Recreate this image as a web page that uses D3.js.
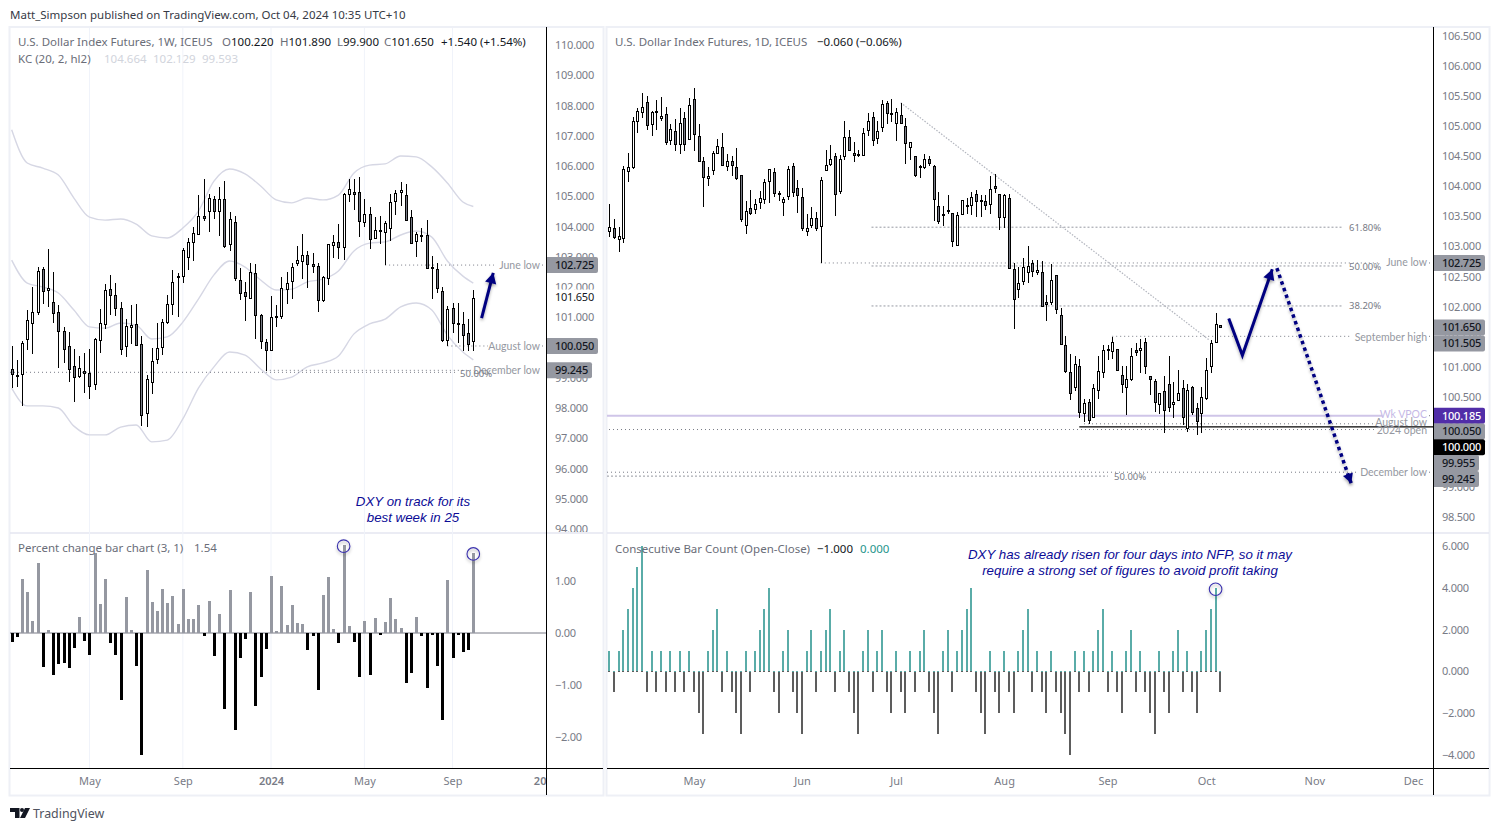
<!DOCTYPE html>
<html>
<head>
<meta charset="utf-8">
<script src="https://cdn.jsdelivr.net/npm/d3@7"></script>
<style>
  html, body { margin: 0; padding: 0; background: #fff; }
  svg { display: block; font-family: "Noto Sans", sans-serif; }
  text { white-space: pre; }
</style>
</head>
<body>
<div id="chart"></div>
<script>
// weekly candles, Jan 2023 to Oct 2024
const wkOpen = [99.28,99.09,99.12,100.27,100.80,101.18,102.58,101.91,101.49,101.16,100.53,100.04,99.38,99.04,99.21,99.16,98.78,100.27,100.75,101.92,101.73,101.30,100.03,100.67,100.79,100.10,97.81,98.85,99.60,100.00,100.84,101.42,102.32,102.34,102.97,103.48,103.76,104.36,104.49,104.90,104.50,104.90,103.40,104.14,102.22,101.82,101.61,102.45,101.06,100.17,99.93,101.02,101.05,101.92,102.18,102.77,102.84,103.05,102.75,102.68,101.56,102.27,103.41,103.48,103.31,105.06,105.13,105.13,104.14,104.40,103.60,103.88,103.81,103.95,104.83,105.12,105.03,104.30,103.50,103.71,103.71,102.66,102.58,101.86,100.25,101.29,100.81,100.77,100.47,100.22];
const wkHigh = [100.05,99.59,100.23,101.24,101.99,102.65,102.67,103.25,102.48,101.39,100.67,100.50,99.94,99.72,99.81,99.94,100.30,101.26,102.10,102.40,102.12,101.50,100.94,101.40,101.44,100.38,99.09,99.97,100.80,100.93,101.72,102.56,102.47,103.28,103.61,103.97,105.04,105.56,105.07,105.01,105.30,105.50,104.47,104.35,102.62,102.17,102.79,102.76,101.11,100.27,101.70,101.40,102.32,102.51,102.78,103.35,103.75,103.18,103.11,102.78,102.37,103.43,103.71,104.08,105.12,105.56,105.56,105.63,104.90,104.65,104.30,104.36,104.18,105.07,105.21,105.46,105.40,104.53,103.83,103.94,104.20,103.02,102.78,101.99,101.37,101.48,101.48,101.17,100.93,101.89];
const wkLow = [98.65,98.70,98.07,99.92,99.80,101.07,101.44,101.35,100.82,99.32,99.50,98.87,98.21,98.99,98.51,98.31,98.60,99.83,100.62,101.07,101.04,99.75,99.67,100.12,100.08,97.40,97.38,98.47,99.45,99.75,100.78,101.07,101.02,102.14,102.56,102.86,103.73,104.19,103.82,104.26,103.69,103.30,103.19,102.21,101.57,100.89,101.59,100.27,99.95,99.21,99.92,100.67,100.95,101.44,101.61,102.70,102.27,101.97,102.45,101.18,101.49,102.08,102.97,102.92,102.89,104.82,104.55,103.66,103.99,103.24,103.58,103.41,102.73,103.51,104.39,104.69,104.17,103.41,103.00,103.50,102.58,101.61,101.79,100.17,100.05,100.47,100.14,99.89,99.89,99.90];
const wkClose = [99.13,99.07,100.14,100.90,101.16,102.52,101.85,101.96,101.12,100.52,99.94,99.27,99.01,99.31,99.15,98.74,100.27,100.82,101.89,101.73,101.30,99.96,100.70,100.74,100.10,97.75,98.95,99.54,99.97,100.83,101.43,102.15,102.36,103.21,103.48,103.77,104.34,104.30,104.93,104.50,104.90,103.36,104.24,102.28,101.78,101.68,102.48,101.05,100.19,99.90,101.01,101.04,101.96,102.12,102.65,102.88,103.05,102.75,102.68,101.55,102.32,103.41,103.50,103.31,105.06,105.23,105.06,104.16,104.40,103.58,103.87,103.86,104.10,104.80,105.10,105.20,104.20,103.43,103.74,103.69,102.61,102.64,101.96,100.24,101.26,100.80,100.79,100.39,100.09,101.65];

// percent change of each weekly bar
const wkPercent = [-0.18,-0.08,1.04,0.78,0.24,1.35,-0.66,0.05,-0.80,-0.60,-0.58,-0.68,-0.29,0.31,-0.16,-0.43,1.53,0.56,1.04,-0.20,-0.43,-1.29,0.70,0.05,-0.64,-2.35,1.22,0.60,0.43,0.85,0.58,0.72,0.18,0.85,0.26,0.26,0.53,-0.05,0.62,-0.45,0.37,-1.47,0.83,-1.87,-0.49,-0.12,0.78,-1.41,-0.85,-0.31,1.10,0.03,0.91,0.16,0.53,0.20,0.18,-0.33,-0.06,-1.10,0.74,1.08,0.08,-0.20,1.70,0.14,-0.18,-0.85,0.24,-0.81,0.29,-0.03,0.22,0.68,0.26,0.10,-0.97,-0.76,0.31,-0.06,-1.05,-0.04,-0.64,-1.68,1.01,-0.49,-0.03,-0.37,-0.33,1.54];

// Keltner channel, read every third week
const kcBars = [0,3,6,9,12,15,18,21,24,27,30,33,36,39,42,45,48,51,54,57,60,63,66,69,72,75,78,81,84,87,89];
const kcUpper = [107.20,106.10,105.93,105.70,104.94,104.31,104.21,104.25,104.08,103.69,103.62,103.95,104.51,105.50,105.90,105.74,105.34,104.88,104.78,104.94,104.88,105.04,105.77,106.03,106.07,106.33,106.30,105.97,105.44,104.81,104.66];
const kcMiddle = [102.89,102.13,102.00,101.80,101.24,100.68,100.64,100.81,100.74,100.28,100.35,100.84,101.60,102.40,102.86,102.66,102.23,101.90,101.93,102.17,102.26,102.53,103.19,103.45,103.49,103.72,103.85,103.65,102.86,102.36,102.13];
const kcLower = [98.66,98.07,98.07,98.00,97.40,97.11,97.11,97.37,97.44,96.88,96.94,97.64,98.66,99.36,99.85,99.75,99.29,98.93,99.02,99.36,99.49,99.72,100.45,100.78,100.94,101.34,101.47,101.24,100.41,99.85,99.59];

// daily candles, Apr to Oct 2024
const dayOpen = [103.25,103.30,103.12,103.14,104.25,104.32,105.08,105.23,105.40,105.03,105.25,105.13,105.20,104.76,104.92,104.70,105.13,104.79,105.45,104.83,104.42,104.13,104.26,104.55,104.65,104.33,104.42,104.32,104.18,103.35,103.64,103.62,103.73,103.79,104.08,104.23,103.89,103.74,103.83,104.33,103.97,103.82,103.25,103.35,103.47,103.34,104.27,104.37,104.50,103.91,104.50,104.82,104.55,104.54,104.52,104.94,105.15,104.81,104.98,105.38,105.22,105.04,105.18,105.01,104.65,104.50,104.31,104.31,104.45,104.33,103.68,103.53,103.59,103.55,103.03,103.53,103.68,103.69,103.87,103.77,103.75,103.71,104.00,103.88,103.48,103.80,102.63,102.30,102.41,102.57,102.73,102.56,102.57,102.07,102.08,102.52,101.86,101.36,100.91,100.66,101.01,100.22,100.41,100.16,100.61,100.91,101.29,101.26,101.29,100.87,100.66,100.79,101.27,101.27,101.41,100.84,100.77,100.38,100.59,100.71,100.39,100.45,100.64,99.98,100.66,100.32,100.22,100.47,101.01,101.41,101.69];
const dayHigh = [103.71,103.45,103.33,104.34,104.55,105.15,105.30,105.56,105.50,105.26,105.44,105.48,105.32,105.04,105.12,105.30,105.24,105.47,105.63,105.03,104.48,104.32,104.59,104.78,104.89,104.53,104.51,104.63,104.18,103.75,103.94,103.79,103.92,104.12,104.28,104.30,103.92,103.82,104.34,104.38,104.11,103.97,103.54,103.65,103.57,104.16,104.61,104.68,104.55,104.52,105.08,104.94,104.74,104.61,104.97,105.22,105.23,105.08,105.44,105.42,105.45,105.30,105.39,105.13,104.73,104.50,104.35,104.54,104.50,104.35,103.91,103.68,103.85,103.55,103.58,103.78,103.80,103.90,103.94,103.85,103.85,104.17,104.21,103.88,103.88,103.88,102.72,102.66,102.80,103.01,102.77,102.77,102.75,102.19,102.71,102.53,101.97,101.51,101.21,101.17,101.13,100.47,100.47,100.72,101.17,101.36,101.36,101.50,101.29,101.01,101.01,101.31,101.39,101.46,101.48,100.84,100.79,100.56,100.85,101.18,100.74,100.95,100.78,100.71,100.68,100.39,100.66,101.14,101.44,101.89,101.69];
const dayLow = [103.16,103.12,102.90,103.05,104.08,104.28,104.89,105.13,104.94,104.83,104.93,105.08,104.69,104.68,104.59,104.53,104.59,104.78,104.58,104.41,103.66,104.00,104.18,104.54,104.33,104.26,104.17,104.10,103.41,103.21,103.53,103.54,103.62,103.71,103.72,103.82,103.75,103.51,103.77,103.83,103.56,103.25,103.18,103.30,103.26,102.73,104.26,104.33,103.50,103.88,104.44,104.59,104.40,104.48,104.51,104.84,104.67,104.70,104.91,105.04,105.07,104.76,105.03,104.37,104.44,104.16,104.13,104.28,104.34,103.43,103.38,103.34,103.54,102.99,103.03,103.52,103.54,103.52,103.49,103.49,103.60,103.54,103.89,103.28,103.30,102.63,101.62,102.15,102.36,102.40,102.50,102.52,102.01,101.76,102.02,101.88,101.36,100.89,100.44,100.59,100.14,100.08,100.05,100.16,100.46,100.82,101.11,101.12,100.92,100.57,100.19,100.76,101.17,100.90,100.88,100.53,100.25,100.22,99.89,100.25,100.14,100.43,100.03,99.91,100.19,99.87,99.90,100.44,100.90,101.40,101.66];
const dayClose = [103.32,103.15,103.17,104.28,104.32,105.08,105.25,105.32,105.01,105.23,105.24,105.17,104.74,104.95,104.70,105.05,104.70,105.35,104.87,104.42,104.16,104.17,104.55,104.67,104.35,104.42,104.35,104.13,103.45,103.59,103.56,103.70,103.80,104.08,104.28,103.88,103.88,103.79,104.28,103.90,103.86,103.31,103.30,103.47,103.30,104.10,104.35,104.45,103.86,104.45,104.82,104.60,104.52,104.53,104.88,105.09,104.76,104.92,105.37,105.22,105.20,105.23,105.04,104.73,104.73,104.19,104.33,104.45,104.38,103.78,103.43,103.54,103.60,103.08,103.53,103.77,103.69,103.82,103.76,103.76,103.69,103.96,103.96,103.49,103.85,102.63,102.13,102.40,102.65,102.67,102.60,102.60,102.01,102.03,102.45,101.96,101.37,100.93,100.56,101.04,100.25,100.39,100.11,100.64,100.92,101.27,101.27,101.41,100.94,100.72,100.79,101.17,101.23,101.31,101.01,100.79,100.42,100.56,100.27,100.32,100.42,100.56,100.16,100.62,100.24,100.11,100.49,100.94,101.39,101.71,101.66];

// consecutive bar count per daily bar
const dayCount = [1,-1,1,2,3,4,5,6,-1,1,-1,1,-1,1,-1,1,-1,1,-1,-2,-3,1,2,3,-1,1,-1,-2,-3,1,-1,1,2,3,4,-1,-2,1,2,-1,-2,-3,1,2,-1,1,2,3,-1,1,2,-1,-2,-3,1,2,-1,1,2,-1,-2,1,-1,-2,1,-1,1,2,-1,-2,-3,1,2,-1,1,2,3,4,-1,-2,-3,1,-1,-2,1,-1,-2,1,2,3,-1,1,-1,-2,1,-1,-2,-3,-4,1,-1,1,-1,1,2,3,-1,1,-1,-2,1,2,-1,1,-1,-2,-3,1,-1,-2,1,2,-1,1,-1,-2,1,2,3,4,-1];

// tick labels
const weekTicks = [15, 33, 50, 68, 85, 103];
const weekTickLabels = ["May", "Sep", "2024", "May", "Sep", "2025"];
const dayTicks = [18, 41, 61, 84, 106, 127, 150, 171];
const dayTickLabels = ["May", "Jun", "Jul", "Aug", "Sep", "Oct", "Nov", "Dec"];
const weekPriceTicks = d3.range(94, 111);
const dayPriceTicks = d3.range(98.5, 107, 0.5);
const percentTicks = [1, 0, -1, -2];
const countTicks = [6, 4, 2, 0, -2, -4];

const width = 1499;
const height = 831;
const gray = "#787b86";
const legendGray = "#6a6d78";
const dark = "#131722";
const boxGray = "#9598a1";
const navy = "#000080";

const xWeek = d3.scaleLinear().domain([0, 89]).range([11.67, 473.3]);
const xDay = d3.scaleLinear().domain([0, 130]).range([609.3, 1220.3]);
const yWeek = d3.scaleLinear().domain([110, 94]).range([45, 529]);
const yDay = d3.scaleLinear().domain([106.5, 98.5]).range([36, 517]);
const yPercent = d3.scaleLinear().domain([1, -2]).range([581, 737]);
const yCount = d3.scaleLinear().domain([6, -4]).range([546, 755]);

const svg = d3.select("#chart").append("svg")
  .attr("width", width)
  .attr("height", height)
  .attr("viewBox", `0 0 ${width} ${height}`);

const defs = svg.append("defs");
const shadow = defs.append("filter").attr("id", "shadow")
  .attr("x", "-50%").attr("y", "-50%").attr("width", "200%").attr("height", "200%");
shadow.append("feDropShadow")
  .attr("dx", 0).attr("dy", 2).attr("stdDeviation", 1.5)
  .attr("flood-color", "#000").attr("flood-opacity", 0.3);

function addClip(id, x, y, w, h) {
  defs.append("clipPath").attr("id", id)
    .append("rect").attr("x", x).attr("y", y).attr("width", w).attr("height", h);
}
addClip("leftMainAxis", 547, 27, 56, 505);
addClip("rightMainAxis", 1434, 27, 55, 505);
addClip("leftTime", 10, 769, 536, 26);

svg.append("rect").attr("width", width).attr("height", height).attr("fill", "#fff");

// panel frames
[[10, 603], [607, 1489]].forEach(([x0, x1]) => {
  svg.append("rect")
    .attr("x", x0 - 0.5).attr("y", 27)
    .attr("width", x1 - x0 + 1).attr("height", 768.5)
    .attr("fill", "none").attr("stroke", "#eef0f6").attr("stroke-width", 2);
  svg.append("line")
    .attr("x1", x0).attr("x2", x1).attr("y1", 533).attr("y2", 533)
    .attr("stroke", "#e4e6f0").attr("stroke-width", 1.5);
});

// faint month lines on the weekly chart
svg.append("g").selectAll("line").data(weekTicks.slice(0, 5)).join("line")
  .attr("x1", d => xWeek(d)).attr("x2", d => xWeek(d))
  .attr("y1", 28).attr("y2", 768)
  .attr("stroke", "#f0f3fa").attr("stroke-width", 1);

function drawCandles(g, open, high, low, close, x, y) {
  const bars = g.selectAll("g").data(open.map((o, i) => ({ i, o, h: high[i], l: low[i], c: close[i] })))
    .join("g")
    .attr("shape-rendering", "crispEdges");
  const cx = d => Math.round(x(d.i)) + 0.5;
  bars.append("line")
    .attr("x1", cx).attr("x2", cx)
    .attr("y1", d => y(d.h)).attr("y2", d => y(d.l))
    .attr("stroke", "#000").attr("stroke-width", 1);
  bars.append("rect")
    .attr("x", d => cx(d) - 1)
    .attr("width", 2)
    .attr("y", d => Math.round(y(Math.max(d.o, d.c))) + 0.5)
    .attr("height", d => Math.max(1, Math.round(Math.abs(y(d.o) - y(d.c)))))
    .attr("fill", d => d.c >= d.o ? "#fff" : gray)
    .attr("stroke", "#000").attr("stroke-width", 1);
}

function dottedLine(x1, x2, yv, color, dash, w) {
  svg.append("line")
    .attr("x1", x1).attr("x2", x2).attr("y1", yv).attr("y2", yv)
    .attr("stroke", color || "#787b86")
    .attr("stroke-width", w || 1)
    .attr("stroke-dasharray", dash === undefined ? "1 3" : dash);
}

function smallLabel(x, yv, txt, anchor, color) {
  return svg.append("text")
    .attr("x", x).attr("y", yv).attr("dy", "0.35em")
    .attr("text-anchor", anchor || "start")
    .attr("font-family", "Lato, sans-serif")
    .attr("font-size", 10.5)
    .attr("fill", color || boxGray)
    .text(txt);
}

function fibLabel(x, yv, txt) {
  return svg.append("text")
    .attr("x", x).attr("y", yv).attr("dy", "0.35em")
    .attr("font-size", 9.5)
    .attr("fill", gray)
    .text(txt);
}

function arrowLine(points, color, dash, w, headSize) {
  const line = d3.line();
  const p = svg.append("path")
    .attr("d", line(points))
    .attr("fill", "none")
    .attr("stroke", color)
    .attr("stroke-width", w)
    .attr("stroke-linejoin", "miter")
    .attr("filter", "url(#shadow)");
  if (dash) p.attr("stroke-dasharray", dash);
  const a = points[points.length - 2];
  const b = points[points.length - 1];
  const ang = Math.atan2(b[1] - a[1], b[0] - a[0]);
  const s = headSize;
  const head = [
    b,
    [b[0] - s * Math.cos(ang - 0.5), b[1] - s * Math.sin(ang - 0.5)],
    [b[0] - s * Math.cos(ang + 0.5), b[1] - s * Math.sin(ang + 0.5)]
  ];
  svg.append("path")
    .attr("d", line(head) + "Z")
    .attr("fill", color)
    .attr("filter", "url(#shadow)");
}

function legend(x, yv, parts) {
  const t = svg.append("text").attr("x", x).attr("y", yv).attr("font-size", 11.5);
  parts.forEach(([txt, color, px]) => {
    const s = t.append("tspan").attr("fill", color).text(txt);
    if (px !== undefined) s.attr("x", px);
  });
}

// weekly price pane
const kcLine = values => d3.line()
  .x(d => xWeek(d))
  .y((d, i) => yWeek(values[i]))
  .curve(d3.curveMonotoneX)(kcBars);
[kcUpper, kcMiddle, kcLower].forEach(v => {
  svg.append("path").attr("d", kcLine(v))
    .attr("fill", "none").attr("stroke", "#d6d7e4").attr("stroke-width", 1.4);
});

dottedLine(10, 458, yWeek(99.18));
dottedLine(xWeek(49), 474, yWeek(99.245));
dottedLine(xWeek(72), 494, yWeek(102.725));
dottedLine(xWeek(84), 488, yWeek(100.05));
dottedLine(542, 546, yWeek(102.725));
dottedLine(542, 546, yWeek(100.05));
drawCandles(svg.append("g"), wkOpen, wkHigh, wkLow, wkClose, xWeek, yWeek);

smallLabel(540, yWeek(102.725), "June low", "end");
smallLabel(540, yWeek(100.05), "August low", "end");
smallLabel(540, yWeek(99.245), "December low", "end");
fibLabel(460, yWeek(99.18) + 1, "50.00%");

arrowLine([[xWeek(90.6), yWeek(100.97)], [xWeek(92.85), yWeek(102.47)]], navy, null, 3, 12);

// weekly percent pane
svg.append("line")
  .attr("x1", 10).attr("x2", 546)
  .attr("y1", yPercent(0)).attr("y2", yPercent(0))
  .attr("stroke", gray);
svg.append("g").selectAll("rect").data(wkPercent).join("rect")
  .attr("shape-rendering", "crispEdges")
  .attr("x", (d, i) => Math.round(xWeek(i)) - 1)
  .attr("width", 3)
  .attr("y", d => Math.min(yPercent(d), yPercent(0)))
  .attr("height", d => Math.abs(yPercent(d) - yPercent(0)))
  .attr("fill", d => d >= 0 ? boxGray : "#000");

// daily price pane
dottedLine(871.5, 1342, yDay(103.32), boxGray, "2 2");
dottedLine(871.5, 1342, yDay(102.675), boxGray, "2 2");
dottedLine(871.5, 1342, yDay(102.01), boxGray, "2 2");
dottedLine(xDay(45), 1380, yDay(102.725));
dottedLine(xDay(107), 1350, yDay(101.505));
dottedLine(607, 1382, yDay(100.185), "#cfc5e8", "", 2);
dottedLine(xDay(101), 1373, yDay(100.05));
dottedLine(609, 1375, yDay(99.955));
dottedLine(607, 1358, yDay(99.245));
dottedLine(607, 1108, yDay(99.18), boxGray, "2 2");
[102.725, 101.505, 100.185, 99.245].forEach(v => dottedLine(1429, 1433, yDay(v)));
svg.append("line")
  .attr("x1", xDay(62)).attr("x2", xDay(127.7))
  .attr("y1", yDay(105.39)).attr("y2", yDay(101.44))
  .attr("stroke", "#b2b5be").attr("stroke-width", 1.2).attr("stroke-dasharray", "1.5 1.5");
svg.append("line")
  .attr("x1", xDay(100)).attr("x2", 1433)
  .attr("y1", yDay(100)).attr("y2", yDay(100))
  .attr("stroke", "#000").attr("stroke-width", 1.2);

drawCandles(svg.append("g"), dayOpen, dayHigh, dayLow, dayClose, xDay, yDay);

fibLabel(1349, yDay(103.32), "61.80%");
fibLabel(1349, yDay(102.675) + 1, "50.00%");
fibLabel(1349, yDay(102.01), "38.20%");
fibLabel(1114, yDay(99.18) + 1, "50.00%");
smallLabel(1427, yDay(102.725) - 0.5, "June low", "end");
smallLabel(1427, yDay(101.505) + 1, "September high", "end");
smallLabel(1427, yDay(100.185) - 1, "Wk VPOC", "end", "#c5b8e6");
smallLabel(1427, yDay(100.05) - 1, "August low", "end");
smallLabel(1427, yDay(99.955) + 1, "2024 open", "end");
smallLabel(1427, yDay(99.245), "December low", "end");

arrowLine([
  [xDay(131.8), yDay(101.8)],
  [xDay(134.7), yDay(101.19)],
  [xDay(141.06), yDay(102.62)]
], navy, null, 3, 12);
arrowLine([
  [xDay(142.04), yDay(102.64)],
  [xDay(157.2), yDay(99.2)],
  [xDay(157.86), yDay(99.06)]
], navy, "3.5 3.5", 3.5, 11);

// daily count pane
const countBars = svg.append("g").selectAll("g").data(dayCount).join("g")
  .attr("shape-rendering", "crispEdges");
countBars.append("rect")
  .attr("x", (d, i) => Math.round(xDay(i)) - 1)
  .attr("width", 2)
  .attr("y", d => Math.min(yCount(d), yCount(0)))
  .attr("height", d => Math.abs(yCount(d) - yCount(0)))
  .attr("fill", d => d > 0 ? "#5aaca8" : "#5d5d5d");
countBars.append("rect")
  .attr("x", (d, i) => Math.round(xDay(i)) - 1)
  .attr("width", 2)
  .attr("y", yCount(0))
  .attr("height", 1)
  .attr("fill", d => d > 0 ? "#5d5d5d" : "#5aaca8");

// highlight rings
[[xWeek(64), yPercent(1.67)], [xWeek(89), yPercent(1.52)], [xDay(129), yCount(3.93)]].forEach(([cx, cy]) => {
  svg.append("circle")
    .attr("cx", cx).attr("cy", cy).attr("r", 6.3)
    .attr("fill", "none")
    .attr("stroke", "#3b32ad").attr("stroke-width", 1.1)
    .attr("filter", "url(#shadow)");
});

// axis lines
[546, 1433].forEach(x0 => {
  svg.append("line").attr("x1", x0 + 0.5).attr("x2", x0 + 0.5).attr("y1", 27).attr("y2", 795)
    .attr("stroke", "#000").attr("stroke-width", 1);
});
svg.append("line").attr("x1", 10).attr("x2", 603).attr("y1", 768.5).attr("y2", 768.5).attr("stroke", "#000");
svg.append("line").attr("x1", 607).attr("x2", 1489).attr("y1", 768.5).attr("y2", 768.5).attr("stroke", "#000");

// price axes
function priceAxis(scale, ticks, fmt, x) {
  const g = svg.append("g")
    .attr("transform", `translate(${x},0)`)
    .call(d3.axisRight(scale).tickValues(ticks).tickSize(0).tickPadding(0).tickFormat(d3.format(fmt)));
  g.select(".domain").remove();
  g.selectAll("text")
    .attr("fill", gray).attr("font-size", 11).attr("letter-spacing", -0.25)
    .attr("font-family", '"Noto Sans", sans-serif');
  return g;
}
const gWeekAxis = svg.append("g").attr("clip-path", "url(#leftMainAxis)");
gWeekAxis.append(() => priceAxis(yWeek, weekPriceTicks, ".3f", 555).node());
const gDayAxis = svg.append("g").attr("clip-path", "url(#rightMainAxis)");
gDayAxis.append(() => priceAxis(yDay, dayPriceTicks, ".3f", 1442).node());
priceAxis(yPercent, percentTicks, ".2f", 555);
priceAxis(yCount, countTicks, ".3f", 1442);

// time axes
function timeAxis(scale, ticks, labels) {
  const g = svg.append("g")
    .attr("transform", "translate(0,769)")
    .call(d3.axisBottom(scale).tickValues(ticks).tickSize(0).tickPadding(8)
      .tickFormat((d, i) => labels[i]));
  g.select(".domain").remove();
  g.selectAll("text")
    .attr("fill", gray).attr("font-size", 11).attr("font-family", '"Noto Sans", sans-serif')
    .attr("font-weight", (d, i) => /^\d/.test(labels[i]) ? 600 : 400);
  return g;
}
svg.append("g").attr("clip-path", "url(#leftTime)")
  .append(() => timeAxis(xWeek, weekTicks, weekTickLabels).node());
timeAxis(xDay, dayTicks, dayTickLabels);

// price boxes, stacked when the prices sit too close together
function priceBoxes(labels, x, w6, w5, scale) {
  let last = -100;
  labels.forEach(([value, fill, color, txt]) => {
    let cy = scale(value);
    if (cy - last < 15.7) cy = last + 15.8;
    last = cy;
    const w = txt.length > 6 ? w6 : w5;
    svg.append("path")
      .attr("d", `M${x},${cy - 8}H${x + w - 2}Q${x + w},${cy - 8} ${x + w},${cy - 6}V${cy + 6}Q${x + w},${cy + 8} ${x + w - 2},${cy + 8}H${x}Z`)
      .attr("fill", fill);
    svg.append("text")
      .attr("x", x + 8).attr("y", cy).attr("dy", "0.35em")
      .attr("font-size", 11).attr("letter-spacing", -0.25).attr("fill", color)
      .attr("font-weight", fill === "#fff" ? 400 : 500)
      .text(txt);
  });
}
priceBoxes([
  [102.725, boxGray, dark, "102.725"],
  [101.65, "#fff", dark, "101.650"],
  [100.05, boxGray, dark, "100.050"],
  [99.245, boxGray, dark, "99.245"]
], 547, 51, 45, yWeek);
priceBoxes([
  [102.725, boxGray, dark, "102.725"],
  [101.65, boxGray, dark, "101.650"],
  [101.505, boxGray, dark, "101.505"],
  [100.185, "#512da8", "#fff", "100.185"],
  [100.05, boxGray, dark, "100.050"],
  [100, "#000", "#fff", "100.000"],
  [99.955, boxGray, dark, "99.955"],
  [99.245, boxGray, dark, "99.245"]
], 1434, 51, 45, yDay);

// legends
legend(18, 46, [
  ["U.S. Dollar Index Futures, 1W, ICEUS", legendGray],
  ["O", legendGray, 222], ["100.220", dark],
  ["H", legendGray, 280], ["101.890", dark],
  ["L", legendGray, 337], ["99.900", dark],
  ["C", legendGray, 384], ["101.650", dark],
  ["+1.540 (+1.54%)", dark, 441]
]);
legend(18, 63, [
  ["KC (20, 2, hl2)", legendGray],
  ["104.664", "#d1d4dc", 104], ["102.129", "#d1d4dc", 153], ["99.593", "#d1d4dc", 202]
]);
legend(615, 46, [
  ["U.S. Dollar Index Futures, 1D, ICEUS", legendGray],
  ["−0.060 (−0.06%)", dark, 817]
]);
legend(18, 552, [
  ["Percent change bar chart (3, 1)", legendGray],
  ["1.54", legendGray, 194]
]);
legend(615, 553, [
  ["Consecutive Bar Count (Open-Close)", legendGray],
  ["−1.000", dark, 817],
  ["0.000", "#26958c", 860]
]);

// notes
function note(x, yv, txt) {
  svg.append("text")
    .attr("x", x).attr("y", yv)
    .attr("text-anchor", "middle")
    .attr("font-family", '"Liberation Sans", Arial, sans-serif')
    .attr("font-style", "italic")
    .attr("font-size", 13.3)
    .attr("fill", "#0b0b96")
    .text(txt);
}
note(413, 506, "DXY on track for its");
note(413, 522, "best week in 25");
note(1130, 559, "DXY has already risen for four days into NFP, so it may");
note(1130, 575, "require a strong set of figures to avoid profit taking");

// page header and footer
svg.append("text").attr("x", 10).attr("y", 19)
  .attr("font-size", 11.5).attr("fill", "#363a45")
  .text("Matt_Simpson published on TradingView.com, Oct 04, 2024 10:35 UTC+10");
svg.append("path")
  .attr("d", "M10,808H19.5V818H15V812H10Z M20,818L25,808H30L25,818Z")
  .attr("fill", "#131722");
svg.append("circle").attr("cx", 22).attr("cy", 810).attr("r", 2).attr("fill", "#131722");
svg.append("text").attr("x", 33).attr("y", 818)
  .attr("font-size", 12.4).attr("fill", "#50535e").text("TradingView");
</script>
</body>
</html>
